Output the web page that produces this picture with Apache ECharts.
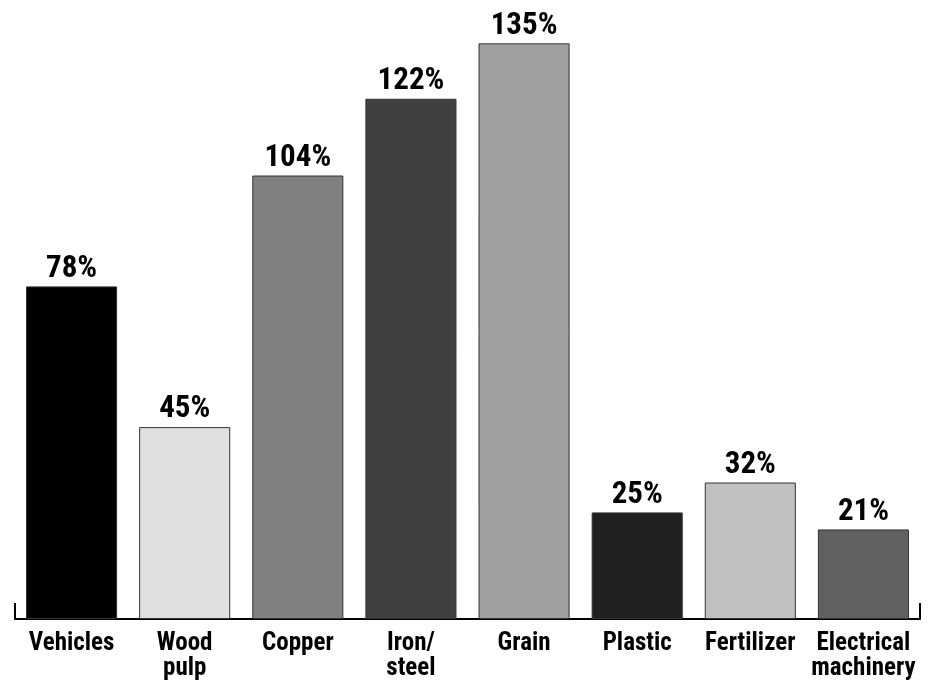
<!DOCTYPE html>
<html>
<head>
<meta charset="utf-8">
<script src="https://cdn.jsdelivr.net/npm/echarts@6/dist/echarts.min.js"></script>
<style>
html,body{margin:0;padding:0;background:#fff;}
#chart{width:930px;height:683px;}
</style>
</head>
<body>
<div id="chart"></div>
<script>
const categories = ['Vehicles', 'Wood\npulp', 'Copper', 'Iron/\nsteel', 'Grain', 'Plastic', 'Fertilizer', 'Electrical\nmachinery'];
const values = [78, 45, 104, 122, 135, 25, 32, 21];
const barColors = ['#000000', '#e0e0e0', '#808080', '#404040', '#a0a0a0', '#202020', '#c0c0c0', '#606060'];

const FONT = '"Roboto Condensed", "Liberation Sans Narrow", "Arial Narrow", sans-serif';

const chart = echarts.init(document.getElementById('chart'), null, {renderer: 'canvas'});
chart.setOption({
  animation: false,
  backgroundColor: '#ffffff',
  grid: {left: 15, right: 10, top: 22, bottom: 64, containLabel: false},
  xAxis: {
    type: 'category',
    data: categories,
    axisLine: {show: true, lineStyle: {color: '#000', width: 2}},
    axisTick: {show: true, inside: true, length: 16, interval: function (i) { return i === 0; }, lineStyle: {color: '#000', width: 2}},
    axisLabel: {
      interval: 0,
      margin: 12,
      color: '#000',
      fontFamily: FONT,
      fontWeight: 'bold',
      fontSize: 25,
      lineHeight: 25
    }
  },
  yAxis: {
    type: 'value',
    min: 0,
    max: 140,
    show: false,
    splitLine: {show: false}
  },
  series: [{
    type: 'bar',
    data: values.map(function (v, i) {
      return {value: v, itemStyle: {color: barColors[i]}};
    }),
    barCategoryGap: '19.5%',
    itemStyle: {borderColor: '#333', borderWidth: 1},
    label: {
      show: true,
      position: 'top',
      distance: 2,
      formatter: '{c}%',
      color: '#000',
      fontFamily: FONT,
      fontWeight: 'bold',
      fontSize: 31
    }
  }]
});
</script>
</body>
</html>
